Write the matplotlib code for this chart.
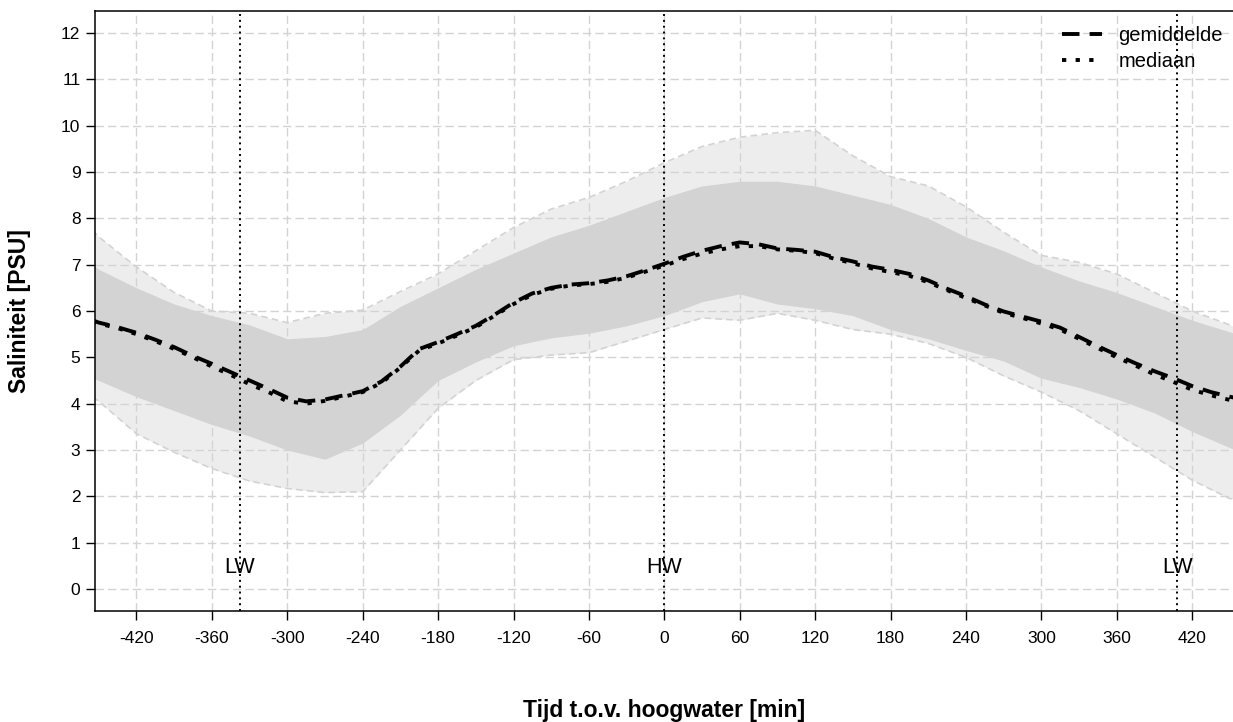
import numpy as np
import matplotlib
matplotlib.use("Agg")
import matplotlib.pyplot as plt

plt.rcParams['font.family'] = ['Liberation Sans', 'DejaVu Sans']
plt.rcParams['axes.unicode_minus'] = False

# ---- data ----
t_line = [-455] + list(range(-450, 451, 15)) + [455]
mean_sal = [5.80,
            5.75, 5.65, 5.53, 5.38, 5.22, 5.03, 4.86, 4.68, 4.50, 4.32,
            4.13, 4.05, 4.09, 4.18, 4.27, 4.48, 4.80, 5.18, 5.33, 5.50,
            5.68, 5.92, 6.18, 6.38, 6.50, 6.57, 6.60, 6.66, 6.75, 6.88,
            7.02, 7.17, 7.30, 7.40, 7.48, 7.44, 7.35, 7.32, 7.28, 7.16,
            7.07, 6.96, 6.89, 6.80, 6.66, 6.48, 6.32, 6.14, 5.99, 5.88,
            5.77, 5.64, 5.44, 5.24, 5.05, 4.87, 4.70, 4.55, 4.38, 4.25,
            4.15, 4.12]
median_sal = [5.78,
              5.73, 5.63, 5.50, 5.35, 5.18, 5.00, 4.80, 4.62, 4.42, 4.25,
              4.05, 4.00, 4.06, 4.15, 4.25, 4.45, 4.78, 5.15, 5.30, 5.47,
              5.65, 5.90, 6.15, 6.35, 6.48, 6.55, 6.58, 6.63, 6.72, 6.85,
              6.98, 7.12, 7.24, 7.33, 7.40, 7.40, 7.33, 7.30, 7.25, 7.13,
              7.03, 6.92, 6.84, 6.76, 6.62, 6.45, 6.28, 6.12, 5.96, 5.85,
              5.73, 5.60, 5.40, 5.20, 5.00, 4.82, 4.63, 4.47, 4.30, 4.18,
              4.08, 4.06]

t_env = [-455] + list(range(-450, 451, 30)) + [455]
upper_outer = [7.75, 7.6, 6.95, 6.4, 6.0, 5.95, 5.75, 5.95, 6.02, 6.42, 6.8,
               7.3, 7.8, 8.2, 8.45, 8.8, 9.2, 9.55, 9.75, 9.85, 9.9, 9.35,
               8.9, 8.7, 8.25, 7.7, 7.2, 7.05, 6.8, 6.4, 6.0, 5.7, 5.65]
core_upper = [7.0, 6.9, 6.5, 6.15, 5.9, 5.7, 5.4, 5.45, 5.6, 6.1, 6.5,
              6.9, 7.25, 7.6, 7.85, 8.15, 8.45, 8.7, 8.8, 8.8, 8.7, 8.5,
              8.3, 8.0, 7.6, 7.3, 6.95, 6.65, 6.4, 6.1, 5.8, 5.55, 5.5]
core_lower = [4.55, 4.5, 4.15, 3.85, 3.55, 3.3, 3.0, 2.8, 3.15, 3.75, 4.5,
              4.9, 5.25, 5.42, 5.52, 5.68, 5.9, 6.2, 6.37, 6.15, 6.05, 5.9,
              5.6, 5.4, 5.15, 4.92, 4.55, 4.35, 4.1, 3.8, 3.4, 3.05, 3.0]
lower_outer = [4.15, 4.05, 3.35, 2.95, 2.6, 2.33, 2.17, 2.08, 2.1, 3.0, 3.9,
               4.5, 4.95, 5.05, 5.1, 5.35, 5.6, 5.85, 5.8, 5.95, 5.8, 5.6,
               5.5, 5.3, 5.0, 4.6, 4.25, 3.85, 3.35, 2.85, 2.35, 1.95, 1.95]

tide_marks = [-338, 0, 408]
tide_labels = ['LW', 'HW', 'LW']
x_ticks = list(range(-420, 421, 60))
y_ticks = list(range(0, 13))

# ---- figure ----
fig = plt.figure(figsize=(12.33, 7.22), dpi=100)
ax = fig.add_axes([95 / 1233, 1 - 611 / 722, 1 - 95 / 1233, 600 / 722])
ax.set_xlim(-453, 452.5)
ax.set_ylim(-0.475, 12.475)

grey = '#D3D3D3'
# grid
for xt in x_ticks:
    ax.axvline(xt, color=grey, lw=1, dashes=(6, 3), zorder=0)
for yt in y_ticks:
    ax.axhline(yt, color=grey, lw=1, dashes=(6, 3), zorder=0)

# cloud of individual tides
ax.fill_between(t_env, lower_outer, upper_outer, color=grey, alpha=0.4,
                lw=0, zorder=1)
ax.fill_between(t_env, core_lower, core_upper, color=grey, lw=0, zorder=2)
for env in (upper_outer, lower_outer):
    ax.plot(t_env, env, color=grey, lw=1.2, dashes=(4, 2.5), zorder=2)

# tide markers
for xm, lab in zip(tide_marks, tide_labels):
    ax.axvline(xm, color='black', lw=1.4, dashes=(1, 2), zorder=3)
    ax.text(xm, 0.47, lab, ha='center', va='center', fontsize=15.5, zorder=4)

ax.plot(t_line, median_sal, color='black', lw=2.8, dashes=(1.1, 2.4),
        label='mediaan', zorder=5)
ax.plot(t_line, mean_sal, color='black', lw=2.8, dashes=(4.5, 2.6),
        label='gemiddelde', zorder=6)

handles, labels = ax.get_legend_handles_labels()
ax.legend(handles[::-1], labels[::-1], loc='upper left',
          bbox_to_anchor=(1062 / 1233, 1 - 26 / 722),
          bbox_transform=fig.transFigure, frameon=False, fontsize=14.5,
          handlelength=2.0, handletextpad=0.8, labelspacing=0.35,
          borderpad=0, borderaxespad=0)

ax.set_xticks(x_ticks)
ax.set_yticks(y_ticks)
ax.tick_params(axis='both', direction='out', length=6.5, width=1,
               labelsize=12.5, colors='black')
ax.tick_params(axis='x', pad=8)
ax.tick_params(axis='y', pad=4)
ax.spines['right'].set_visible(False)
for s in ('left', 'top', 'bottom'):
    ax.spines[s].set_linewidth(1.1)

fig.text(664 / 1233, 1 - 710 / 722, 'Tijd t.o.v. hoogwater [min]',
         ha='center', va='center', fontsize=16.5, fontweight='bold')
fig.text(20 / 1233, 1 - 311 / 722, 'Saliniteit [PSU]', rotation=90,
         ha='center', va='center', fontsize=16.5, fontweight='bold')

fig.savefig('out.png', dpi=100)
